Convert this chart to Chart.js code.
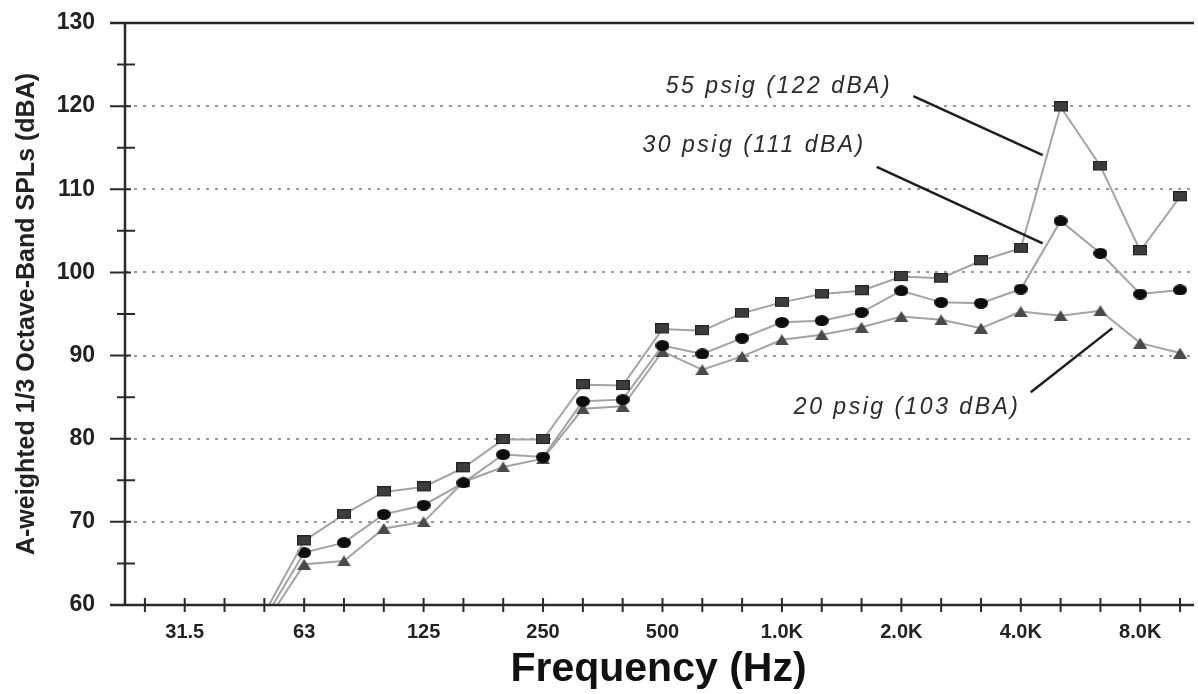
<!DOCTYPE html>
<html>
<head>
<meta charset="utf-8">
<script src="https://cdn.jsdelivr.net/npm/chart.js@4/dist/chart.umd.min.js"></script>
<style>
  html, body { margin: 0; padding: 0; background: #fff; }
  #wrap { width: 1198px; height: 694px; }
</style>
</head>
<body>
<div id="wrap"><canvas id="splChart" width="1198" height="694"></canvas></div>
<script>
// 1/3 octave bands along the x axis
const bands = ['25', '31.5', '40', '50', '63', '80', '100', '125', '160', '200', '250', '315', '400',
  '500', '630', '800', '1.0K', '1.25K', '1.6K', '2.0K', '2.5K', '3.15K', '4.0K', '5.0K', '6.3K', '8.0K', '10K'];
const tickLabels = ['31.5', '63', '125', '250', '500', '1.0K', '2.0K', '4.0K', '8.0K'];

// bands that carry measured values
const measuredBands = ['50', '63', '80', '100', '125', '160', '200', '250', '315', '400', '500', '630',
  '800', '1.0K', '1.25K', '1.6K', '2.0K', '2.5K', '3.15K', '4.0K', '5.0K', '6.3K', '8.0K', '10K'];

const psig55 = [59.0, 67.7, 70.9, 73.6, 74.2, 76.5, 79.9, 79.9, 86.5, 86.4, 93.2, 93.0,
  95.1, 96.4, 97.4, 97.8, 99.5, 99.3, 101.4, 102.9, 119.9, 112.8, 102.6, 109.1];
const psig30 = [58.3, 66.3, 67.5, 70.9, 72.0, 74.7, 78.1, 77.8, 84.5, 84.7, 91.2, 90.2,
  92.1, 94.0, 94.2, 95.2, 97.8, 96.4, 96.3, 98.0, 106.2, 102.3, 97.4, 97.9];
const psig20 = [57.6, 64.9, 65.3, 69.2, 70.0, 74.8, 76.6, 77.6, 83.6, 83.9, 90.5, 88.3,
  89.9, 91.9, 92.5, 93.4, 94.7, 94.3, 93.3, 95.3, 94.8, 95.4, 91.5, 90.3];

const seriesNames = ['55 psig (122 dBA)', '30 psig (111 dBA)', '20 psig (103 dBA)'];

// where the callout texts and leader lines sit, in axis units (band index, dBA)
const callouts = [
  { text: seriesNames[0], at: [13.08, 122.4], from: [19.3, 121.2], to: [22.55, 114.1] },
  { text: seriesNames[1], at: [12.5, 115.2], from: [18.38, 112.7], to: [22.55, 103.5] },
  { text: seriesNames[2], at: [16.3, 83.75], from: [24.3, 93.3], to: [22.25, 85.6] }
];

const FONT = "'Liberation Sans', Arial, sans-serif";

const toPoints = (values) => values.map((v, i) => ({ x: bands.indexOf(measuredBands[i]), y: v }));

// marker images
function makeMarker(kind) {
  const c = document.createElement('canvas');
  c.width = 14; c.height = 11;
  const g = c.getContext('2d');
  if (kind === 'square') {
    g.fillStyle = '#3c3c3c';
    g.fillRect(0, 0, 14, 10);
    g.strokeStyle = '#222';
    g.lineWidth = 1;
    g.strokeRect(0.5, 0.5, 13, 9);
  } else if (kind === 'circle') {
    g.fillStyle = '#0d0d0d';
    g.beginPath();
    g.ellipse(7, 5.5, 7, 5.5, 0, 0, Math.PI * 2);
    g.fill();
  } else {
    g.fillStyle = '#4a4a4a';
    g.beginPath();
    g.moveTo(7, 0);
    g.lineTo(14, 11);
    g.lineTo(0, 11);
    g.closePath();
    g.fill();
  }
  return c;
}

const frameLines = {
  id: 'frameLines',
  afterDraw(chart) {
    const { ctx, chartArea: a, scales: { x, y } } = chart;
    ctx.save();
    ctx.strokeStyle = '#2a2a2a';
    ctx.lineWidth = 2.5;
    ctx.beginPath();
    ctx.moveTo(a.left - 15, a.top); ctx.lineTo(a.right + 2, a.top);
    ctx.moveTo(a.left - 15, a.bottom); ctx.lineTo(a.right + 2, a.bottom);
    ctx.moveTo(a.left, a.top); ctx.lineTo(a.left, a.bottom);
    ctx.stroke();

    ctx.lineWidth = 2;
    ctx.beginPath();
    for (let i = 0; i < bands.length; i++) {
      const px = x.getPixelForValue(i);
      ctx.moveTo(px, a.bottom - 7); ctx.lineTo(px, a.bottom + 7);
    }
    for (let v = 60; v <= 130; v += 5) {
      const py = y.getPixelForValue(v);
      if (v % 10 === 0) {
        ctx.moveTo(a.left - 15, py); ctx.lineTo(a.left + 6, py);
      } else {
        ctx.moveTo(a.left - 8, py); ctx.lineTo(a.left + 10, py);
      }
    }
    ctx.stroke();
    ctx.restore();
  }
};

const calloutPlugin = {
  id: 'callouts',
  afterDatasetsDraw(chart) {
    const { ctx, scales: { x, y } } = chart;
    ctx.save();
    ctx.strokeStyle = '#1e1e1e';
    ctx.lineWidth = 2.5;
    ctx.fillStyle = '#2a2a2a';
    ctx.font = 'italic 23px ' + FONT;
    ctx.letterSpacing = '2.5px';
    ctx.textAlign = 'left';
    ctx.textBaseline = 'middle';
    callouts.forEach(c => {
      ctx.beginPath();
      ctx.moveTo(x.getPixelForValue(c.from[0]), y.getPixelForValue(c.from[1]));
      ctx.lineTo(x.getPixelForValue(c.to[0]), y.getPixelForValue(c.to[1]));
      ctx.stroke();
      ctx.fillText(c.text, x.getPixelForValue(c.at[0]), y.getPixelForValue(c.at[1]));
    });
    ctx.restore();
  }
};

const noEdgePadding = (scale) => {
  scale.paddingTop = 0;
  scale.paddingBottom = 0;
  scale.paddingLeft = 0;
  scale.paddingRight = 0;
};

const lineStyle = {
  borderColor: '#a3a3a3',
  borderWidth: 2,
  tension: 0,
  fill: false,
  clip: 0
};

new Chart(document.getElementById('splChart').getContext('2d'), {
  type: 'line',
  data: {
    datasets: [
      { ...lineStyle, label: seriesNames[0], data: toPoints(psig55), pointStyle: makeMarker('square') },
      { ...lineStyle, label: seriesNames[1], data: toPoints(psig30), pointStyle: makeMarker('circle') },
      { ...lineStyle, label: seriesNames[2], data: toPoints(psig20), pointStyle: makeMarker('triangle') }
    ]
  },
  options: {
    responsive: false,
    animation: false,
    layout: { padding: { top: 23, right: 1, left: 0, bottom: 0 } },
    plugins: {
      legend: { display: false },
      tooltip: { enabled: false }
    },
    scales: {
      x: {
        type: 'linear',
        min: -0.5,
        max: 26.3,
        afterFit: (scale) => { scale.height = 89; noEdgePadding(scale); },
        afterBuildTicks: (scale) => {
          scale.ticks = bands.map((b, i) => ({ value: i }));
        },
        grid: { display: false, drawTicks: false },
        border: { display: false },
        ticks: {
          autoSkip: false,
          maxRotation: 0,
          padding: 15,
          color: '#222',
          font: { family: FONT, size: 20, weight: 'bold' },
          callback: (value) => tickLabels.includes(bands[value]) ? bands[value] : ''
        },
        title: {
          display: true,
          text: 'Frequency (Hz)',
          color: '#111',
          padding: { top: 0, bottom: 0 },
          font: { family: FONT, size: 41, weight: 'bold' }
        }
      },
      y: {
        min: 60,
        max: 130,
        afterFit: (scale) => { scale.width = 125; noEdgePadding(scale); },
        grid: {
          drawTicks: false,
          lineWidth: 2,
          color: (ctx) => (ctx.tick && ctx.tick.value > 60 && ctx.tick.value < 130) ? '#9a9a9a' : 'rgba(0,0,0,0)'
        },
        border: { display: false, dash: [3, 6] },
        ticks: {
          stepSize: 10,
          padding: 30,
          color: '#222',
          font: { family: FONT, size: 23, weight: 'bold' }
        },
        title: {
          display: true,
          text: 'A-weighted 1/3 Octave-Band SPLs (dBA)',
          color: '#222',
          padding: { top: 12, bottom: 0 },
          font: { family: FONT, size: 25, weight: 'bold' }
        }
      }
    }
  },
  plugins: [frameLines, calloutPlugin]
});
</script>
</body>
</html>
